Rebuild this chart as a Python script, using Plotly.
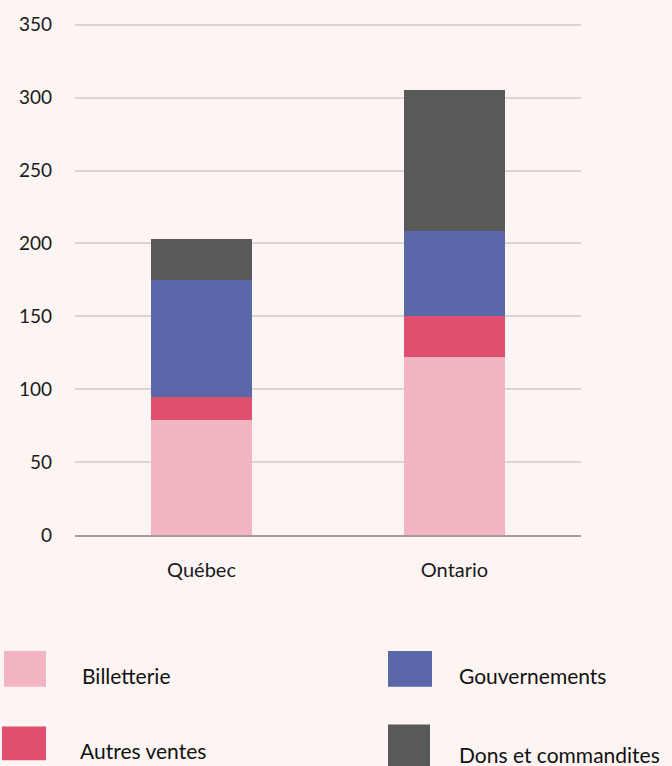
import plotly.graph_objects as go

provinces = ['Québec', 'Ontario']
billetterie = [79, 122]
autres_ventes = [16, 28.5]
gouvernements = [80, 58]
dons = [28, 97]

series = [
    ('Billetterie', billetterie, '#f3b5c2'),
    ('Autres ventes', autres_ventes, '#e0506e'),
    ('Gouvernements', gouvernements, '#5a67a8'),
    ('Dons et commandites', dons, '#595959'),
]

W, H = 672, 766
L, R, T, B = 75, 91, 19, 231
pw, ph = W - L - R, H - T - B

def px(x):
    return (x - L) / pw

def py(y):
    return (H - B - y) / ph

fig = go.Figure()
for name, vals, col in series:
    fig.add_trace(go.Bar(x=provinces, y=vals, name=name,
                         marker=dict(color=col, line=dict(width=0))))

# hand-made legend, 2x2 grid under the plot
legend_pos = [(4, 652, 46, 688, 80, 677),
              (2, 728, 46, 762, 78, 752),
              (388, 652, 432, 688, 457, 677),
              (388, 726, 430, 770, 457, 756)]
for (name, vals, col), (x0, y0, x1, y1, tx, ty) in zip(series, legend_pos):
    fig.add_shape(type='rect', xref='paper', yref='paper',
                  x0=px(x0), x1=px(x1), y0=py(y1), y1=py(y0),
                  fillcolor=col, line=dict(width=0))
    fig.add_annotation(text=name, xref='paper', yref='paper',
                       x=px(tx), y=py(ty), xanchor='left', yanchor='middle',
                       showarrow=False, font=dict(size=21, color='#111111'))

fig.update_layout(width=W, height=H, barmode='stack', bargap=0.6,
                  showlegend=False,
                  margin=dict(l=L, r=R, t=T, b=B),
                  font=dict(family='Lato', size=19, color='#1a1a1a'),
                  paper_bgcolor='#fdf5f3', plot_bgcolor='#fdf5f3')
fig.update_xaxes(showline=True, linecolor='#a69c9c', linewidth=1.5,
                 showgrid=False, ticks='', ticklabelstandoff=16,
                 tickfont=dict(size=20), fixedrange=True)
fig.update_yaxes(range=[0, 351.2], tick0=0, dtick=50, showgrid=True,
                 gridcolor='#ddd3d3', gridwidth=1.5, zeroline=False,
                 ticks='', ticklabelstandoff=22, fixedrange=True)

fig.write_html('out.html', config={'displayModeBar': False},
               post_script="document.body.style.margin='0';document.body.style.overflow='hidden';")
